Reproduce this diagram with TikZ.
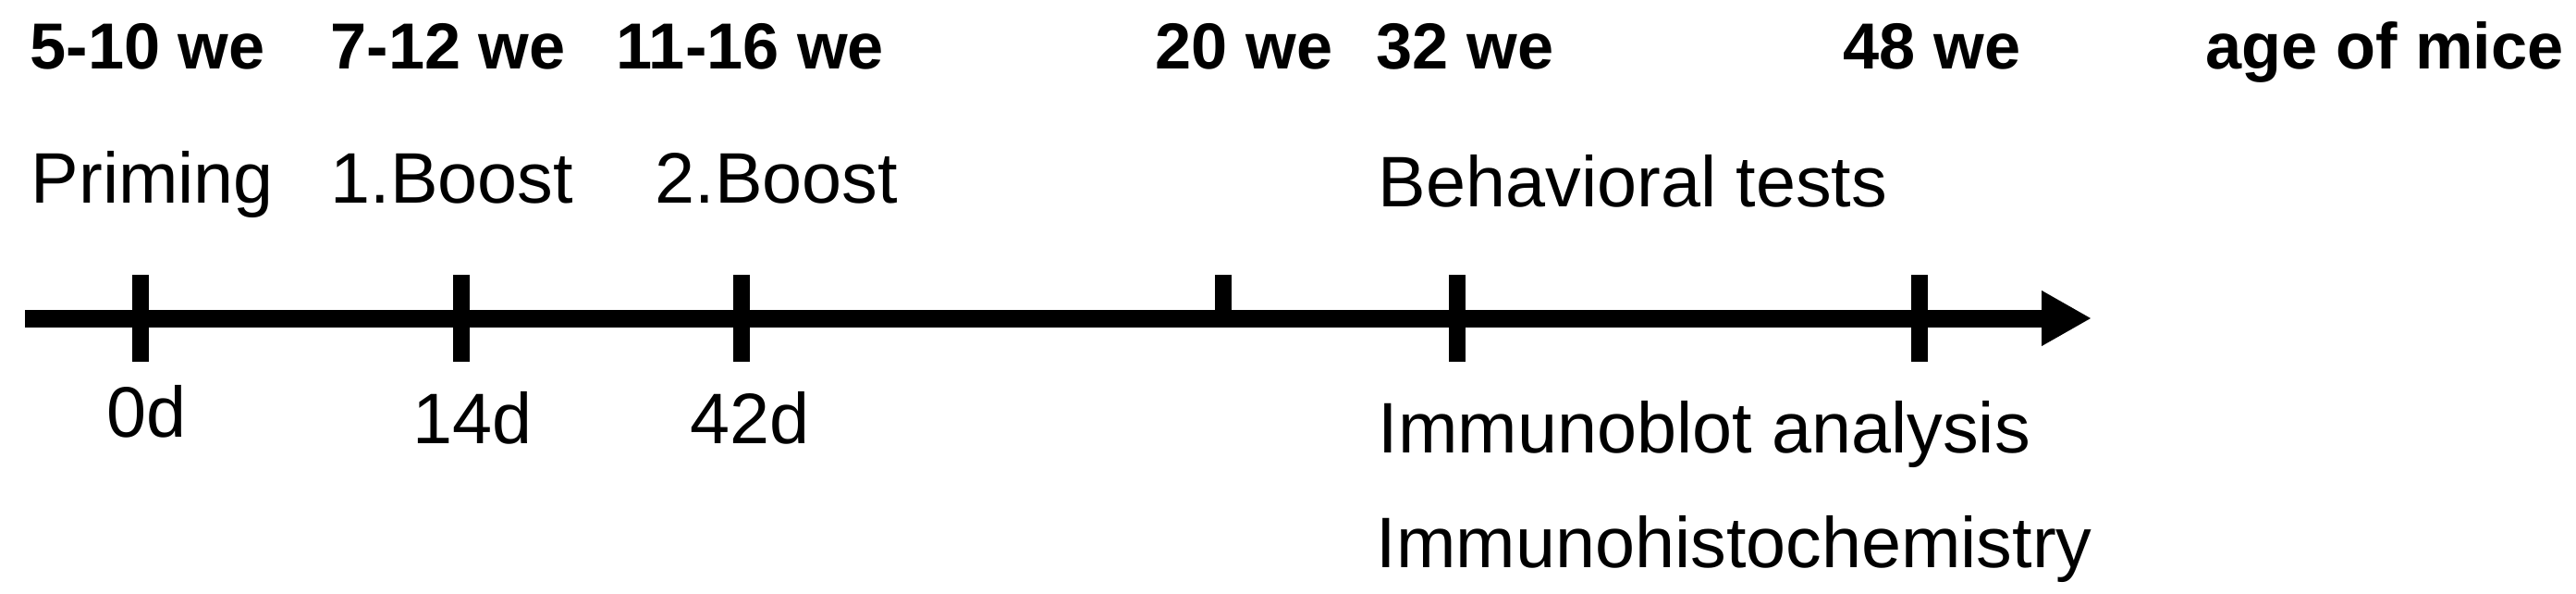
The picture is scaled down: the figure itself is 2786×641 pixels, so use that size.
\documentclass[tikz,border=0pt]{standalone}
\usepackage{fontspec}
\setmainfont{Liberation Sans}
\usepackage{tikz}
\usetikzlibrary{arrows.meta,positioning}

\begin{document}
\begin{tikzpicture}[
  x=0.01cm, y=-0.01cm,
  age/.style={anchor=base west, inner sep=0pt, font=\fontsize{20}{24}\selectfont\bfseries},
  event/.style={anchor=base west, inner sep=0pt, font=\fontsize{22}{26}\selectfont},
  tick/.style={rectangle, fill=black, inner sep=0pt, minimum width=0.18cm, minimum height=0.94cm},
  halftick/.style={rectangle, fill=black, inner sep=0pt, minimum width=0.18cm, minimum height=0.46cm, anchor=south},
  timeline/.style={-{Triangle[length=0.54cm, width=0.56cm]}, line width=0.19cm}
]
\useasboundingbox (0,0) rectangle (2786,641);

% Ages
\node[age] (a1) at (32,74) {5-10 we};
\node[age] (a2) at (357,74) {7-12 we};
\node[age] (a3) at (666,74) {11-16 we};
\node[age] (a4) at (1249,74) {20 we};
\node[age] (a5) at (1488,74) {32 we};
\node[age] (a6) at (1993,74) {48 we};
\node[age] (mice) at (2385,74) {age of mice};

% Events
\node[event] (prim) at (33,219) {Priming};
\node[event] (boost1) at (357,219) {1.Boost};
\node[event] (boost2) at (708,219) {2.Boost};
\node[event] (behav) at (1490,223) {Behavioral tests};

% Days
\node[event] (d0) at (115,472) {0d};
\node[event] (d14) at (446,479) {14d};
\node[event] (d42) at (746,479) {42d};

% Analyses
\node[event] (blot) at (1490,489) {Immunoblot analysis};
\node[event] (histo) at (1488,613) {Immunohistochemistry};

% Timeline
\coordinate (start) at (27,344);
\coordinate (stop) at (2262,344);
\draw[timeline] (start) -- (stop);

% Ticks
\node[tick] (t0) at (152,344) {};
\node[tick] (t14) at (499,344) {};
\node[tick] (t42) at (802,344) {};
\node[halftick] (t20) at (1323,344) {};
\node[tick] (t32) at (1576,344) {};
\node[tick] (t48) at (2076,344) {};

\end{tikzpicture}
\end{document}
